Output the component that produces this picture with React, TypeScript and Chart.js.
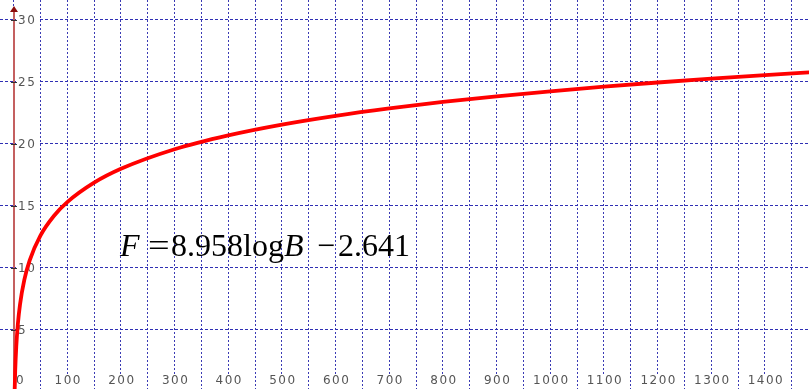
import React, { useEffect, useRef } from "react";
import { Chart, registerables } from "chart.js";

Chart.register(...registerables);

// Curve values: B (x) and F (y)
const B_VALUES = [1.5, 2, 3, 5, 8, 12, 20, 30, 50, 75, 100, 150, 200, 300, 400, 500, 600, 700, 800, 900, 1000, 1100, 1200, 1300, 1400, 1500];
const F_VALUES = [-1.06, 0.06, 1.63, 3.62, 5.45, 7.03, 9.01, 10.59, 12.58, 14.16, 15.28, 16.85, 17.97, 19.55, 20.67, 21.54, 22.25, 22.85, 23.37, 23.82, 24.23, 24.6, 24.94, 25.25, 25.54, 25.81];

// Tick labels
const X_TICK_LABELS = [0, 100, 200, 300, 400, 500, 600, 700, 800, 900, 1000, 1100, 1200, 1300, 1400];
const Y_TICK_LABELS = [5, 10, 15, 20, 25, 30];

// Grid positions
const X_GRID = [0, 50, 100, 150, 200, 250, 300, 350, 400, 450, 500, 550, 600, 650, 700, 750, 800, 850, 900, 950, 1000, 1050, 1100, 1150, 1200, 1250, 1300, 1350, 1400, 1450];
const Y_GRID = [0, 5, 10, 15, 20, 25, 30];

// Formula pieces: text, italic, x offset from start
const FORMULA_PIECES: [string, boolean, number][] = [
  ["F", true, 0],
  ["=", false, 28],
  ["8.958", false, 51],
  ["log", false, 123],
  ["B", true, 164],
  ["\u2212", false, 197],
  ["2.641", false, 218],
];

const overlayPlugin = {
  id: "overlay",
  beforeDatasetsDraw(chart: any) {
    const { ctx, scales, chartArea } = chart;
    const xs = scales.x;
    const ys = scales.y;
    ctx.save();

    // Y axis line
    const x0 = Math.round(xs.getPixelForValue(0));
    ctx.strokeStyle = "#c46060";
    ctx.lineWidth = 2;
    ctx.beginPath();
    ctx.moveTo(x0, chartArea.bottom);
    ctx.lineTo(x0, chartArea.top + 10);
    ctx.stroke();
    // arrow head
    ctx.fillStyle = "#8a0c0c";
    ctx.beginPath();
    ctx.moveTo(x0 - 4, chartArea.top + 12);
    ctx.lineTo(x0 + 4, chartArea.top + 12);
    ctx.lineTo(x0, chartArea.top + 6);
    ctx.closePath();
    ctx.fill();

    ctx.font = "12px 'DejaVu Sans'";
    (ctx as any).letterSpacing = "1.5px";
    ctx.textBaseline = "middle";

    // Y tick labels
    Y_TICK_LABELS.forEach((v) => {
      const py = Math.round(ys.getPixelForValue(v)) + 0.5;
      const label = String(v);
      const w = ctx.measureText(label).width;
      ctx.fillStyle = "#ffffff";
      ctx.fillRect(x0 + 2, py - 5, w + 4, 10);
      ctx.strokeStyle = "#333333";
      ctx.lineWidth = 1;
      ctx.beginPath();
      ctx.moveTo(x0 - 3, py);
      ctx.lineTo(x0 + 3, py);
      ctx.stroke();
      ctx.fillStyle = "#555555";
      ctx.textAlign = "left";
      ctx.fillText(label, x0 + 4, py);
    });

    // X tick labels
    const ly = chartArea.bottom - 8;
    X_TICK_LABELS.forEach((v) => {
      const px = xs.getPixelForValue(v);
      const label = String(v);
      const w = ctx.measureText(label).width;
      const cx = v === 0 ? px + 6 : px;
      ctx.fillStyle = "#ffffff";
      ctx.fillRect(cx - w / 2 - 1, ly - 7, w + 2, 15);
      ctx.fillStyle = "#555555";
      ctx.textAlign = "center";
      ctx.fillText(label, cx + 1, ly);
    });

    // Formula
    (ctx as any).letterSpacing = "0px";
    ctx.fillStyle = "#000000";
    ctx.textAlign = "left";
    ctx.textBaseline = "alphabetic";
    const fx = chartArea.left + 120;
    const fy = chartArea.top + 256;
    FORMULA_PIECES.forEach(([t, italic, off]) => {
      ctx.font = `${italic ? "italic " : ""}32px 'Liberation Serif', 'Times New Roman', serif`;
      if (t === "=") {
        ctx.save();
        ctx.translate(fx + off, fy);
        ctx.scale(1.2, 1);
        ctx.fillText(t, 0, 0);
        ctx.restore();
      } else {
        ctx.fillText(t, fx + off, fy);
      }
    });

    ctx.restore();
  },
};

export default function App() {
  const canvasRef = useRef<HTMLCanvasElement | null>(null);

  useEffect(() => {
    const canvas = canvasRef.current;
    if (!canvas) return;
    const data = B_VALUES.map((b, i) => ({ x: b, y: F_VALUES[i] }));
    const chart = new Chart(canvas, {
      type: "line",
      data: {
        datasets: [
          {
            data,
            borderColor: "#ff0000",
            borderWidth: 3.8,
            pointRadius: 0,
            fill: false,
            cubicInterpolationMode: "monotone",
          },
        ],
      },
      options: {
        animation: false,
        responsive: false,
        devicePixelRatio: 1,
        layout: { padding: 0 },
        plugins: {
          legend: { display: false },
          tooltip: { enabled: false },
        },
        scales: {
          x: {
            type: "linear",
            min: -25.3,
            max: 1482,
            afterBuildTicks: (scale: any) => {
              scale.ticks = X_GRID.map((v) => ({ value: v }));
            },
            ticks: { display: false },
            grid: { color: "#3a3ab4", lineWidth: 1, drawTicks: false },
            border: { display: false, dash: [2, 2] },
          },
          y: {
            type: "linear",
            min: 0.2,
            max: 31.6,
            afterBuildTicks: (scale: any) => {
              scale.ticks = Y_GRID.map((v) => ({ value: v }));
            },
            ticks: { display: false },
            grid: { color: "#2f2fb4", lineWidth: 1, drawTicks: false },
            border: { display: false, dash: [3, 2] },
          },
        },
      },
      plugins: [overlayPlugin],
    } as any);
    return () => chart.destroy();
  }, []);

  return (
    <div style={{ position: "absolute", left: 0, top: 0, width: 809, height: 389, background: "#ffffff" }}>
      <canvas ref={canvasRef} width={809} height={389} style={{ display: "block" }} />
    </div>
  );
}
